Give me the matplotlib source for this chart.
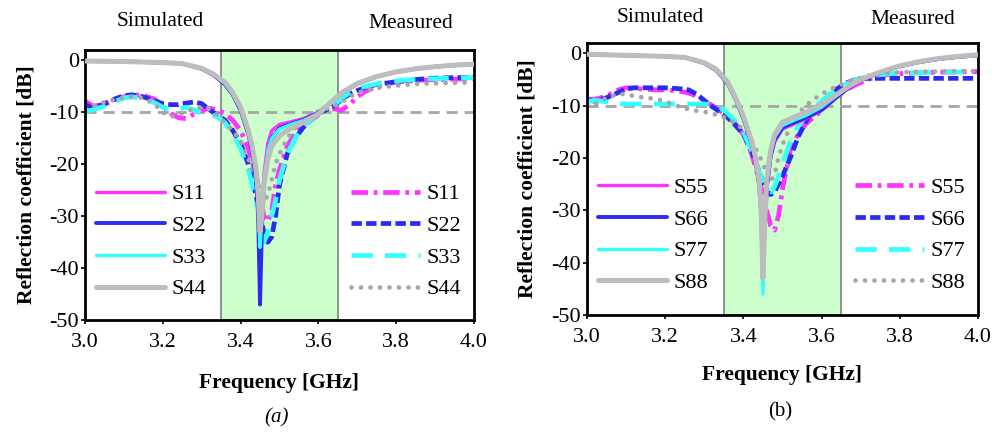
#!/usr/bin/python
# -*- coding: utf-8 -*-

import matplotlib
matplotlib.use('Agg')
import matplotlib.pyplot as plt

# simulated frequency grid (GHz)
f_sim = [3.0, 3.05, 3.1, 3.15, 3.2, 3.25, 3.3, 3.33, 3.36, 3.38, 3.40, 3.42, 3.43,
         3.44, 3.445, 3.45, 3.455, 3.46, 3.47, 3.48, 3.50, 3.53, 3.56, 3.60, 3.63,
         3.66, 3.70, 3.75, 3.80, 3.85, 3.90, 3.95, 4.0]

# measured frequency grid (GHz)
f_meas = [3.0, 3.02, 3.05, 3.08, 3.1, 3.12, 3.15, 3.18, 3.2, 3.22, 3.24, 3.26, 3.28,
          3.3, 3.32, 3.34, 3.36, 3.38, 3.40, 3.42, 3.44, 3.45, 3.46, 3.47, 3.48, 3.49,
          3.50, 3.52, 3.54, 3.56, 3.58, 3.60, 3.62, 3.64, 3.66, 3.68, 3.70, 3.72, 3.75,
          3.78, 3.82, 3.86, 3.90, 3.95, 4.0]

# ---- panel (a) simulated ----
s11_sim = [-0.1, -0.15, -0.2, -0.3, -0.4, -0.6, -1.6, -2.8, -4.5, -6.5, -9.5, -14, -17,
           -22, -27, -40, -30, -22, -16, -13.5, -12.3, -11.8, -11.2, -10.0, -8.2,
           -6.3, -4.5, -3.1, -2.2, -1.6, -1.2, -0.9, -0.7]
s22_sim = [-0.1, -0.15, -0.2, -0.3, -0.4, -0.6, -1.6, -2.8, -4.6, -6.6, -9.6, -14.2, -17.5,
           -23, -29, -47, -32, -24, -18, -15, -13, -12.2, -11.5, -10.1, -8.2,
           -6.3, -4.5, -3.1, -2.2, -1.6, -1.2, -0.9, -0.7]
s33_sim = [-0.1, -0.15, -0.2, -0.3, -0.4, -0.6, -1.5, -2.7, -4.4, -6.4, -9.3, -13.8, -16.8,
           -22, -27, -36, -30, -23, -17.5, -15, -13.2, -12.3, -11.6, -10.2, -8.2,
           -6.3, -4.5, -3.1, -2.2, -1.6, -1.2, -0.9, -0.7]
s44_sim = [-0.1, -0.15, -0.2, -0.3, -0.4, -0.6, -1.5, -2.6, -4.2, -6.2, -9.0, -13.5, -16.5,
           -21, -25, -33, -30, -24, -19, -16.5, -14.5, -13, -12, -10.3, -8.2,
           -6.2, -4.4, -3.1, -2.2, -1.6, -1.2, -0.9, -0.7]

# ---- panel (a) measured ----
s11_meas = [-7.8, -8.8, -8.5, -7.5, -7.0, -6.6, -6.7, -7.5, -8.8, -10.2, -11.0, -11.2, -10.3,
            -9.6, -9.2, -9.5, -10.2, -11.5, -13.5, -17, -22, -26, -30, -31, -29, -24,
            -21, -16.5, -14, -12.5, -11.5, -10.5, -9.5, -9.3, -9.6, -8.5, -7.0, -6.0, -5.0,
            -4.4, -4.0, -3.8, -3.7, -3.6, -3.5]
s22_meas = [-8.5, -9.2, -8.3, -7.3, -6.8, -6.6, -7.0, -7.8, -8.3, -8.5, -8.5, -8.2, -8.0,
            -8.3, -9.5, -10.5, -11.5, -13.5, -16, -20, -26, -30, -33, -35, -34, -30,
            -24, -18, -15, -13, -11.5, -10.2, -9.5, -8.8, -7.5, -6.5, -5.8, -5.2, -4.6,
            -4.3, -3.9, -3.6, -3.4, -3.3, -3.3]
s33_meas = [-9.8, -9.5, -8.8, -7.8, -7.2, -7.0, -7.3, -8.2, -9.0, -9.5, -9.3, -9.0, -9.5,
            -10.2, -10.5, -10.8, -12, -14, -17, -21, -27, -31, -35, -33, -30, -27,
            -23, -18, -15, -13, -11.5, -10.2, -9.3, -8.6, -7.3, -6.2, -5.5, -5.0, -4.5,
            -4.1, -3.8, -3.6, -3.5, -3.4, -3.3]
s44_meas = [-9.0, -8.8, -8.0, -7.5, -7.2, -7.0, -7.2, -8.5, -10.0, -10.8, -10.5, -9.8, -9.3,
            -9.0, -9.3, -10.5, -12, -13.5, -15.5, -19, -23, -25, -27, -26, -23, -20,
            -18, -15, -13, -11.5, -10.5, -9.8, -9.3, -8.8, -8.0, -7.0, -6.3, -5.8, -5.3,
            -5.0, -4.7, -4.5, -4.4, -4.3, -4.2]

# ---- panel (b) simulated ----
s55_sim = [-0.2, -0.3, -0.4, -0.5, -0.6, -0.8, -1.9, -3.2, -5.8, -8.8, -12.5, -17, -20,
           -25, -30, -38, -33, -26, -20, -17, -14.5, -13.5, -12.5, -11, -9.0,
           -7.2, -5.2, -3.7, -2.5, -1.7, -1.1, -0.7, -0.4]
s66_sim = [-0.2, -0.3, -0.4, -0.5, -0.6, -0.8, -1.9, -3.2, -5.8, -8.8, -12.5, -17, -20,
           -25, -30, -40, -33, -25.5, -19.5, -16.5, -14.2, -13.2, -12.3, -10.8, -8.9,
           -7.1, -5.1, -3.7, -2.5, -1.7, -1.1, -0.7, -0.4]
s77_sim = [-0.2, -0.3, -0.4, -0.5, -0.6, -0.8, -1.8, -3.1, -5.6, -8.6, -12.2, -16.8, -19.8,
           -24.5, -30, -46, -32, -24.5, -19, -16, -13.8, -12.8, -11.9, -10.3, -8.6,
           -6.9, -5.0, -3.6, -2.4, -1.6, -1.0, -0.6, -0.3]
s88_sim = [-0.2, -0.3, -0.4, -0.5, -0.6, -0.8, -1.8, -3.0, -5.5, -8.5, -12.0, -16.5, -19.5,
           -24, -29, -43, -32, -24, -18.5, -15.5, -13.2, -12.2, -11.3, -9.8, -8.3,
           -6.8, -5.0, -3.6, -2.4, -1.6, -1.0, -0.6, -0.3]

# ---- panel (b) measured ----
s55_meas = [-8.8, -8.8, -8.2, -7.0, -6.6, -6.7, -6.9, -7.0, -7.0, -7.1, -7.3, -7.6, -8.2,
            -9.0, -10.0, -11.0, -12.0, -13.5, -15.5, -19, -24, -27, -30, -33, -33.8, -31,
            -26, -18.5, -15.5, -13.5, -12.2, -11.0, -9.5, -8.2, -7.2, -6.3, -5.6, -5.0, -4.3,
            -4.0, -3.8, -3.7, -3.6, -3.6, -3.5]
s66_meas = [-8.8, -9.2, -8.5, -7.5, -6.8, -6.6, -6.6, -6.6, -6.6, -6.7, -6.8, -7.0, -7.8,
            -9.0, -10.2, -11.2, -12.3, -13.8, -15.5, -18.5, -22.5, -24.5, -26.5, -27, -26.5, -25,
            -23.5, -20, -16, -13, -11, -9.3, -8.0, -6.8, -5.8, -5.2, -4.9, -4.8, -4.8,
            -4.8, -4.8, -4.8, -4.8, -4.8, -4.8]
s77_meas = [-9.2, -9.0, -9.3, -9.6, -9.7, -9.7, -9.7, -9.7, -9.7, -9.7, -9.7, -9.7, -9.7,
            -9.7, -9.8, -10.3, -11.5, -13, -15, -18.5, -22.5, -24.5, -26, -26.5, -25.5, -23.5,
            -21, -17, -14, -12, -10.5, -9.2, -8.0, -6.9, -6.0, -5.3, -4.8, -4.4, -4.1,
            -3.9, -3.8, -3.7, -3.6, -3.6, -3.6]
s88_meas = [-10, -9.8, -8.5, -7.8, -7.8, -8.2, -8.5, -8.8, -9.2, -9.8, -10.3, -10.7, -11.0,
            -11.2, -11.5, -12.0, -12.5, -13.5, -14.5, -16.5, -19.5, -21, -23, -24.5, -23, -20,
            -17.5, -14, -11.5, -10.0, -8.8, -7.8, -7.0, -6.3, -5.7, -5.2, -4.7, -4.3, -4.0,
            -3.7, -3.6, -3.5, -3.5, -3.4, -3.4]

labels_a = ['S11', 'S22', 'S33', 'S44']
labels_b = ['S55', 'S66', 'S77', 'S88']

xticks = [3.0, 3.2, 3.4, 3.6, 3.8, 4.0]
yticks = [0, -10, -20, -30, -40, -50]

MAG = '#ff33ff'
BLU = '#2b2bf0'
CYA = '#33ffff'
GRY = '#bdbdbd'
GRY2 = '#a6a6a6'


def panel(ax, sims, meas, labels, ylab_x, xlab_y):
    ax.axvspan(3.35, 3.65, facecolor='#ccffcc', edgecolor='#808080', lw=1.2, zorder=0)
    ax.axhline(-10, color='#a6a6a6', lw=2, dashes=(4, 2.5), zorder=1)

    cols = [MAG, BLU, CYA, GRY]
    lws = [2.4, 2.8, 2.4, 3.6]
    hs = []
    for y, c, w, lab in zip(sims, cols, lws, labels):
        h, = ax.plot(f_sim, y, color=c, lw=w, label=lab, solid_capstyle='round', zorder=3)
        hs.append(h)

    styles = [dict(color=MAG, dashes=(3.5, 1.2, 0.8, 1.2)),
              dict(color=BLU, dashes=(2.2, 0.9)),
              dict(color=CYA, dashes=(4.5, 2.6)),
              dict(color=GRY2, dashes=(0.01, 2.0), dash_capstyle='round')]
    hm = []
    for y, st, lab in zip(meas, styles, labels):
        h, = ax.plot(f_meas, y, lw=3.4, label=lab, zorder=2, **st)
        hm.append(h)

    ax.set_xlim(3.0, 4.0)
    ax.set_ylim(-50, 2)
    ax.set_xticks(xticks)
    ax.set_xticklabels(['%.1f' % t for t in xticks])
    ax.set_yticks(yticks)
    ax.set_yticklabels(['%d' % t for t in yticks])
    ax.tick_params(labelsize=16, direction='out', length=3, width=1.2)
    ax.tick_params(axis='x', pad=6.5)
    ax.tick_params(axis='y', pad=1.5)
    for s in ax.spines.values():
        s.set_linewidth(2)
    ax.set_xlabel('Frequency [GHz]', fontsize=15.5, fontweight='bold')
    ax.set_ylabel('Reflection coefficient [dB]', fontsize=15.5, fontweight='bold')
    ax.yaxis.set_label_coords(ylab_x, 0.5)
    ax.xaxis.set_label_coords(0.5, xlab_y)

    kw = dict(frameon=False, fontsize=16, handlelength=3.1, handletextpad=0.3,
              labelspacing=0.5, borderpad=0, borderaxespad=0, loc='upper left')
    l1 = ax.legend(handles=hs, bbox_to_anchor=(0.028, 0.505), **kw)
    ax.add_artist(l1)
    ax.legend(handles=hm, bbox_to_anchor=(0.685, 0.505), **kw)


def main():
    plt.rcParams['font.family'] = ['Liberation Serif', 'DejaVu Serif']
    plt.rcParams['axes.unicode_minus'] = False

    fig = plt.figure(figsize=(9.97, 4.32), dpi=100)
    ax1 = fig.add_axes([0.0853, 0.259, 0.390, 0.625])
    ax2 = fig.add_axes([0.5888, 0.271, 0.392, 0.630])

    panel(ax1, [s11_sim, s22_sim, s33_sim, s44_sim],
          [s11_meas, s22_meas, s33_meas, s44_meas], labels_a, -0.124, -0.196)
    panel(ax2, [s55_sim, s66_sim, s77_sim, s88_sim],
          [s55_meas, s66_meas, s77_meas, s88_meas], labels_b, -0.128, -0.183)

    fig.text(160 / 997., 1 - 22 / 432., 'Simulated', fontsize=15.5, ha='center', va='center')
    fig.text(411 / 997., 1 - 24 / 432., 'Measured', fontsize=15.5, ha='center', va='center')
    fig.text(660 / 997., 1 - 17 / 432., 'Simulated', fontsize=15.5, ha='center', va='center')
    fig.text(913 / 997., 1 - 19 / 432., 'Measured', fontsize=15.5, ha='center', va='center')
    fig.text(277 / 997., 1 - 418 / 432., '(a)', fontsize=15, style='italic', ha='center', va='center')
    fig.text(780 / 997., 1 - 412 / 432., '(b)', fontsize=15, ha='center', va='center')

    fig.savefig('out.png', dpi=100)


if (__name__ == '__main__'):
    main()
